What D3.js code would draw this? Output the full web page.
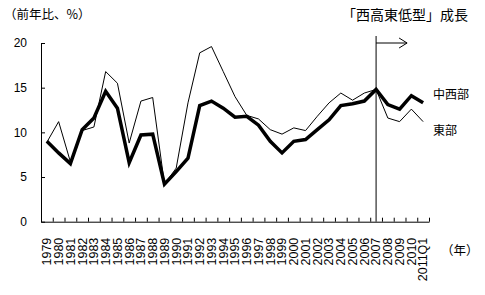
<!DOCTYPE html>
<html lang="ja">
<head>
<meta charset="UTF-8">
<title>西高東低型成長</title>
<script src="https://d3js.org/d3.v7.min.js"></script>
<style>
    body { margin: 0; padding: 0; background: #fff; }
    svg { display: block; }
    .num { font-family: "Liberation Sans", Arial, sans-serif; font-size: 12px; fill: #000; }
    .jp { font-family: "Noto Sans CJK JP", sans-serif; fill: #000; }
    .axis path, .axis line { stroke: #000; stroke-width: 1; }
</style>
</head>
<body>
<svg width="485" height="295"></svg>
<script>
    // categories (x axis)
    const years = ["1979","1980","1981","1982","1983","1984","1985","1986","1987","1988",
        "1989","1990","1991","1992","1993","1994","1995","1996","1997","1998","1999",
        "2000","2001","2002","2003","2004","2005","2006","2007","2008","2009","2010","2011Q1"];

    // 中西部 (thick line)
    const midwest = [9.0, 7.7, 6.5, 10.3, 11.6, 14.6, 12.7, 6.6, 9.7, 9.8,
        4.2, 5.6, 7.1, 13.0, 13.5, 12.7, 11.7, 11.8, 10.8, 9.0, 7.7,
        9.0, 9.2, 10.3, 11.4, 13.0, 13.2, 13.5, 14.8, 13.1, 12.6, 14.1, 13.3];

    // 東部 (thin line)
    const east = [8.9, 11.2, 6.7, 10.2, 10.6, 16.8, 15.5, 8.8, 13.5, 13.9,
        4.2, 6.0, 13.3, 18.9, 19.6, 16.8, 14.0, 11.9, 11.5, 10.3, 9.8,
        10.5, 10.2, 11.8, 13.3, 14.4, 13.6, 14.4, 14.8, 11.6, 11.2, 12.6, 11.2];

    const yTicks = [0, 5, 10, 15, 20];
    const markYear = "2007";

    const svg = d3.select("svg");

    // plot area
    const plotL = 41, plotR = 429, plotT = 43, plotB = 221.7;

    const x = d3.scaleBand().domain(years).range([plotL, plotR]).padding(0);
    const xi = d3.scaleLinear().domain([0, years.length]).range([plotL, plotR]);
    const y = d3.scaleLinear().domain([0, 20]).range([plotB, plotT]);
    const cx = d => x(d) + x.bandwidth() / 2;

    // y axis
    svg.append("g")
        .attr("class", "axis")
        .attr("transform", `translate(${plotL},0)`)
        .call(d3.axisLeft(y).tickValues(yTicks).tickSizeInner(-4).tickSizeOuter(0).tickPadding(14))
        .call(g => g.attr("font-size", null).attr("font-family", null))
        .call(g => g.selectAll("text").attr("class", "num"));

    // x axis: ticks at category boundaries, pointing up
    svg.append("g")
        .attr("class", "axis")
        .attr("transform", `translate(0,${plotB})`)
        .call(d3.axisBottom(xi).tickValues(d3.range(0, years.length + 1)).tickSizeInner(-4).tickSizeOuter(0).tickFormat(""));

    // x labels rotated
    svg.append("g").selectAll("text")
        .data(years)
        .join("text")
        .attr("class", "num")
        .style("font-size", "12.5px")
        .attr("text-anchor", "end")
        .attr("dy", "0.35em")
        .attr("transform", d => `translate(${cx(d)},${plotB + 16}) rotate(-90)`)
        .text(d => d);

    // lines
    const line = d3.line().x((d, i) => cx(years[i])).y(d => y(d));

    svg.append("path")
        .datum(east)
        .attr("fill", "none")
        .attr("stroke", "#000")
        .attr("stroke-width", 1)
        .attr("d", line);

    svg.append("path")
        .datum(midwest)
        .attr("fill", "none")
        .attr("stroke", "#000")
        .attr("stroke-width", 3.5)
        .attr("d", line);

    // 2007 marker line and arrow
    const mx = cx(markYear);
    svg.append("line")
        .attr("x1", mx).attr("x2", mx)
        .attr("y1", plotT - 7).attr("y2", plotB)
        .attr("stroke", "#000").attr("stroke-width", 1);

    const ay = y(20);
    const ax2 = mx + 31;
    svg.append("line")
        .attr("x1", mx).attr("x2", ax2)
        .attr("y1", ay).attr("y2", ay)
        .attr("stroke", "#000").attr("stroke-width", 1);
    svg.append("path")
        .attr("d", `M${ax2 - 8},${ay - 5}L${ax2},${ay}L${ax2 - 8},${ay + 5}`)
        .attr("fill", "none").attr("stroke", "#000").attr("stroke-width", 1);

    // texts
    svg.append("text")
        .attr("class", "jp")
        .style("font-size", "14px")
        .attr("x", 342).attr("y", 20)
        .text("「西高東低型」成長");

    svg.append("text")
        .attr("class", "jp")
        .style("font-size", "12.5px")
        .attr("x", 4).attr("y", 19)
        .text("（前年比、%）");

    svg.append("text")
        .attr("class", "jp")
        .style("font-size", "12px")
        .attr("x", 433).attr("y", 99)
        .text("中西部");

    svg.append("text")
        .attr("class", "jp")
        .style("font-size", "12px")
        .attr("x", 433).attr("y", 135)
        .text("東部");

    svg.append("text")
        .attr("class", "jp")
        .style("font-size", "12.5px")
        .attr("x", 441).attr("y", 255)
        .text("（年）");
</script>
</body>
</html>
